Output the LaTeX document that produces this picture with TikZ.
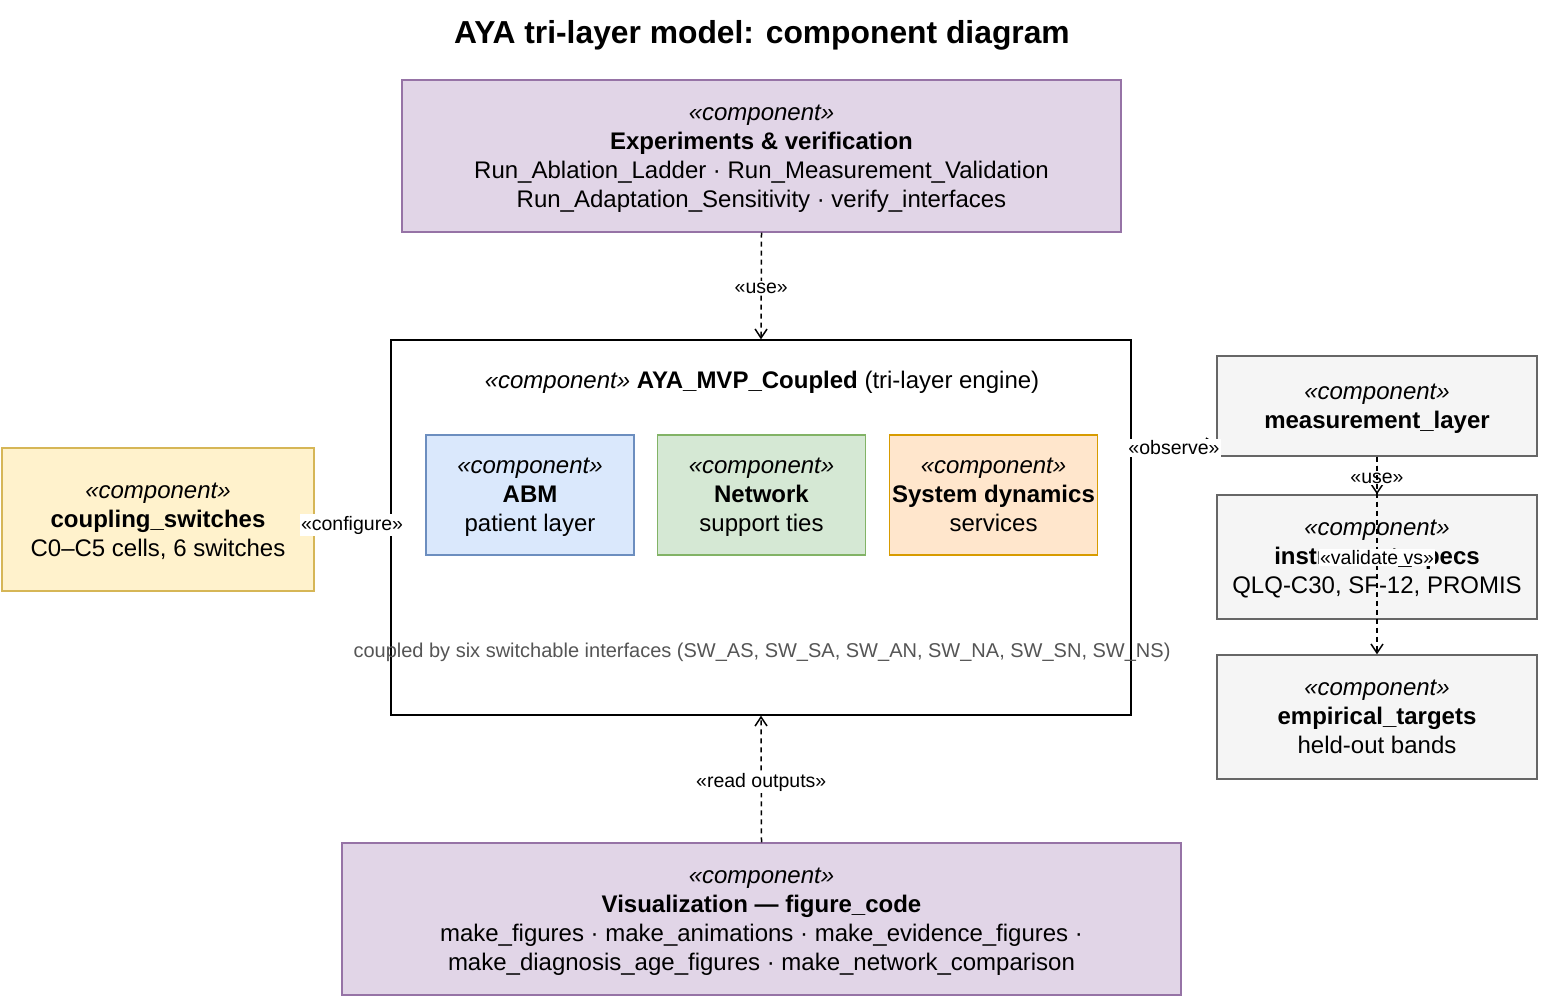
\documentclass[tikz,border=0pt]{standalone}
\usepackage{fontspec}
\setmainfont{Liberation Sans}
\usetikzlibrary{arrows.meta}
\definecolor{purpF}{HTML}{E1D5E7}\definecolor{purpD}{HTML}{9673A6}
\definecolor{blueF}{HTML}{DAE8FC}\definecolor{blueD}{HTML}{6C8EBF}
\definecolor{greenF}{HTML}{D5E8D4}\definecolor{greenD}{HTML}{82B366}
\definecolor{orangeF}{HTML}{FFE6CC}\definecolor{orangeD}{HTML}{D79B00}
\definecolor{yellowF}{HTML}{FFF2CC}\definecolor{yellowD}{HTML}{D6B656}
\definecolor{grayF}{HTML}{F5F5F5}\definecolor{grayD}{HTML}{666666}
\definecolor{noteC}{HTML}{555555}
\tikzset{
  comp/.style={draw, line width=1.4pt, align=center, inner sep=0pt,
    font=\fontsize{24}{29}\selectfont},
  purp/.style={comp, fill=purpF, draw=purpD},
  blu/.style={comp, fill=blueF, draw=blueD, minimum width=208pt, minimum height=120pt},
  grn/.style={comp, fill=greenF, draw=greenD, minimum width=208pt, minimum height=120pt},
  org/.style={comp, fill=orangeF, draw=orangeD, minimum width=208pt, minimum height=120pt},
  ylw/.style={comp, fill=yellowF, draw=yellowD},
  gry/.style={comp, fill=grayF, draw=grayD, minimum width=320pt},
  dep/.style={draw, line width=1.5pt, dash pattern=on 5pt off 4pt,
    -{Straight Barb[length=9pt,width=12pt,line width=1.5pt]}},
  lbl/.style={fill=white, inner xsep=1pt, inner ysep=1.5pt, font=\fontsize{19.5}{22}\selectfont},
}
\newcommand{\st}{\rule[-7pt]{0pt}{29pt}}
\newcommand{\stereo}{\st\textit{«component»}}
\begin{document}
\begin{tikzpicture}[x=1pt,y=-1pt]
\useasboundingbox (0,0) rectangle (1541,999);
\node[font=\bfseries\fontsize{31.8}{36}\selectfont] (title) at (762,35) {AYA tri-layer model: component diagram};

\node[purp, minimum width=719pt, minimum height=152pt] (exp) at (761.5,156)
  {\stereo\\\textbf{Experiments \& verification}\st\\Run\_Ablation\_Ladder · Run\_Measurement\_Validation\st\\Run\_Adaptation\_Sensitivity · verify\_interfaces\st};

\node[draw, line width=1.4pt, fill=white, minimum width=740pt, minimum height=375pt] (aya) at (761,527.5) {};
\node[font=\fontsize{24}{29}\selectfont] (ayat) at (762,382) {\textit{«component»} \textbf{AYA\_MVP\_Coupled} (tri-layer engine)};
\node[blu] (abm) at (530,495) {\stereo\\\textbf{ABM}\st\\patient layer\st};
\node[grn] (net) at (761.5,495) {\stereo\\\textbf{Network}\st\\support ties\st};
\node[org] (sd) at (993.5,495) {\stereo\\\textbf{System dynamics}\st\\services\st};
\node[text=noteC, font=\fontsize{20}{22}\selectfont] (note) at (762,652) {coupled by six switchable interfaces (SW\_AS, SW\_SA, SW\_AN, SW\_NA, SW\_SN, SW\_NS)};

\node[ylw, minimum width=312pt, minimum height=143pt] (cs) at (158,519.5) {\stereo\\\textbf{coupling\_switches}\st\\C0–C5 cells, 6 switches\st};

\node[gry, minimum height=100pt] (ml) at (1377,406) {\stereo\\\textbf{measurement\_layer}\st};
\node[gry, minimum height=124pt] (ins) at (1377,557) {\stereo\\\textbf{instrument\_specs}\st\\QLQ-C30, SF-12, PROMIS\st};
\node[gry, minimum height=124pt] (emp) at (1377,717) {\stereo\\\textbf{empirical\_targets}\st\\held-out bands\st};

\node[purp, minimum width=839pt, minimum height=152pt] (vis) at (761.5,919)
  {\stereo\\\textbf{Visualization — figure\_code}\st\\make\_figures · make\_animations · make\_evidence\_figures ·\st\\make\_diagnosis\_age\_figures · make\_network\_comparison\st};

% connectors
\draw[dep] (exp.south) -- node[lbl, yshift=-2pt] {«use»} (aya.north);
\draw[dep] (vis.north) -- node[lbl, yshift=-3pt] {«read outputs»} (aya.south);
\coordinate (csE) at (cs.east |- 0,523);
\draw[dep] (csE) -- node[lbl, xshift=-0.5pt, yshift=-2pt] {«configure»} (csE -| aya.west);
\coordinate (ayaE) at (aya.east |- 0,444);
\draw[dep] (ayaE) -- node[lbl, yshift=-4pt] {«observe»} (ayaE -| ml.west);
\draw[dep] (ml.south) -- node[lbl, yshift=-3pt] {«use»} (ins.north);
\draw[dep] (ml.south) -- node[lbl, pos=0.51] {«validate vs»} (emp.north);
\end{tikzpicture}
\end{document}
